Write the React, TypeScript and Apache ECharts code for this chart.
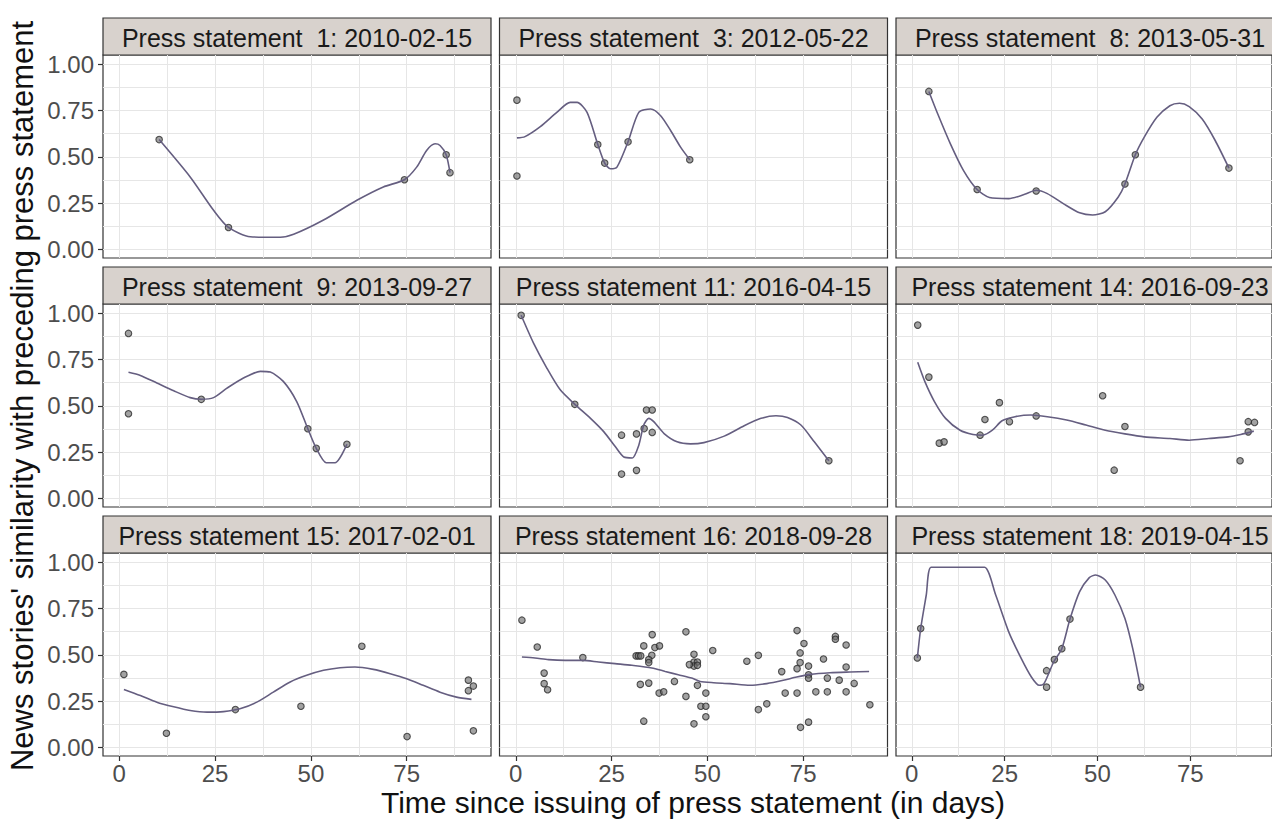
import React, { useEffect, useRef } from "react";
import * as echarts from "echarts";

const FONT = '"Liberation Sans", Arial, Helvetica, sans-serif';

const panelTitles = [
  "Press statement  1: 2010-02-15",
  "Press statement  3: 2012-05-22",
  "Press statement  8: 2013-05-31",
  "Press statement  9: 2013-09-27",
  "Press statement 11: 2016-04-15",
  "Press statement 14: 2016-09-23",
  "Press statement 15: 2017-02-01",
  "Press statement 16: 2018-09-28",
  "Press statement 18: 2019-04-15",
];

const xTickValues = [0, 25, 50, 75];
const xGridValues = [0, 12.5, 25, 37.5, 50, 62.5, 75, 87.5];
const yTickValues = [0, 0.25, 0.5, 0.75, 1];
const yGridValues = [0, 0.125, 0.25, 0.375, 0.5, 0.625, 0.75, 0.875, 1];

const xTitle = "Time since issuing of press statement (in days)";
const yTitle = "News stories' similarity with preceding press statement";

const ps1Points = [[10.4, 0.593], [28.5, 0.118], [74.4, 0.376], [85.3, 0.511], [86.3, 0.414]];
const ps1Smooth = [[10.4, 0.593], [18.5, 0.391], [24.6, 0.211], [28.5, 0.118], [34.2, 0.068], [42, 0.065], [45.5, 0.081], [53.3, 0.158], [62, 0.265], [68.9, 0.337], [74.4, 0.376], [77.6, 0.444], [80.2, 0.534], [82.4, 0.57], [83.7, 0.561], [85.3, 0.511], [86.3, 0.414]];

const ps3Points = [[0.3, 0.806], [0.3, 0.396], [21.4, 0.566], [23.2, 0.466], [29.3, 0.581], [45.4, 0.484]];
const ps3Smooth = [[0.3, 0.602], [2.4, 0.609], [6.4, 0.663], [10.7, 0.74], [14.2, 0.794], [16.0, 0.794], [18.6, 0.74], [21.4, 0.566], [23.2, 0.466], [24.7, 0.435], [26.4, 0.444], [29.3, 0.581], [32.1, 0.74], [35.2, 0.758], [37.8, 0.722], [40.4, 0.642], [43.0, 0.552], [45.4, 0.484]];

const ps8Points = [[4.6, 0.853], [17.6, 0.323], [33.5, 0.315], [57.4, 0.353], [60.2, 0.511], [85.4, 0.439]];
const ps8Smooth = [[4.6, 0.853], [7.0, 0.731], [10.4, 0.57], [13.9, 0.427], [17.6, 0.323], [20.9, 0.28], [26.1, 0.274], [30.4, 0.297], [33.5, 0.319], [36.5, 0.301], [40.8, 0.247], [45.2, 0.197], [48.7, 0.185], [52.1, 0.203], [55.6, 0.283], [57.4, 0.353], [60.2, 0.511], [62.6, 0.606], [66.0, 0.713], [69.5, 0.776], [72.1, 0.789], [74.7, 0.771], [78.2, 0.704], [81.7, 0.588], [85.4, 0.439]];

const ps9Points = [[2.4, 0.891], [2.4, 0.457], [21.4, 0.535], [49.2, 0.376], [51.4, 0.27], [59.4, 0.292]];
const ps9Smooth = [[2.4, 0.681], [5.5, 0.664], [9.8, 0.623], [14.2, 0.581], [18.5, 0.544], [21.4, 0.535], [24.6, 0.544], [28.1, 0.595], [32.4, 0.65], [36.8, 0.686], [39.4, 0.682], [42.8, 0.632], [46.3, 0.523], [49.2, 0.376], [51.4, 0.27], [54.0, 0.192], [56.3, 0.192], [59.4, 0.292]];

const ps11Points = [[1.4, 0.989], [15.4, 0.508], [27.6, 0.341], [27.6, 0.131], [31.5, 0.348], [31.5, 0.151], [33.5, 0.377], [34.1, 0.477], [35.6, 0.477], [35.6, 0.356], [81.7, 0.203]];
const ps11Smooth = [[1.4, 0.989], [4.6, 0.84], [8.1, 0.704], [11.6, 0.586], [15.4, 0.508], [19.5, 0.432], [23.0, 0.359], [26.0, 0.278], [28.2, 0.223], [30.4, 0.218], [32.1, 0.287], [33.4, 0.396], [34.7, 0.432], [36.0, 0.414], [38.7, 0.35], [42.1, 0.305], [45.6, 0.294], [49.1, 0.301], [54.4, 0.336], [59.6, 0.392], [64.0, 0.432], [67.9, 0.446], [70.9, 0.437], [74.4, 0.396], [77.9, 0.305], [81.7, 0.203]];

const ps14Points = [[1.6, 0.936], [4.6, 0.655], [7.4, 0.298], [8.7, 0.305], [18.4, 0.341], [19.7, 0.426], [23.6, 0.517], [26.3, 0.414], [33.5, 0.445], [51.4, 0.554], [54.5, 0.152], [57.4, 0.388], [88.4, 0.203], [90.6, 0.359], [90.6, 0.414], [92.3, 0.41]];
const ps14Smooth = [[1.6, 0.735], [3.5, 0.632], [6.1, 0.523], [9.1, 0.432], [13.0, 0.368], [16.5, 0.345], [19.1, 0.341], [21.7, 0.368], [24.3, 0.419], [27.8, 0.441], [32.1, 0.45], [36.5, 0.441], [41.7, 0.423], [46.9, 0.396], [52.1, 0.368], [57.4, 0.348], [62.6, 0.332], [69.5, 0.323], [74.7, 0.314], [80.0, 0.323], [85.2, 0.332], [88.6, 0.345], [92.1, 0.363]];

const ps15Points = [[1.2, 0.394], [12.3, 0.076], [30.3, 0.204], [47.4, 0.222], [63.3, 0.546], [75.1, 0.058], [91.1, 0.363], [91.1, 0.306], [92.4, 0.331], [92.4, 0.089]];
const ps15Smooth = [[1.2, 0.313], [5.5, 0.28], [9.8, 0.244], [14.2, 0.219], [18.5, 0.199], [22.9, 0.19], [27.2, 0.193], [31.5, 0.208], [35.9, 0.244], [40.2, 0.298], [44.6, 0.353], [48.9, 0.389], [53.3, 0.416], [57.6, 0.43], [61.5, 0.434], [66.3, 0.421], [70.7, 0.398], [75.0, 0.371], [79.3, 0.335], [83.7, 0.298], [88.0, 0.271], [91.9, 0.259]];

const ps16Points = [[1.6, 0.687], [5.6, 0.542], [7.4, 0.401], [7.4, 0.344], [8.3, 0.311], [17.5, 0.485], [31.4, 0.494], [32.0, 0.494], [32.6, 0.494], [33.4, 0.548], [35.6, 0.609], [36.3, 0.539], [37.5, 0.548], [35.5, 0.497], [34.7, 0.474], [34.7, 0.458], [32.5, 0.34], [34.7, 0.347], [37.4, 0.293], [38.6, 0.3], [33.4, 0.141], [41.4, 0.356], [44.4, 0.624], [44.4, 0.275], [46.5, 0.503], [46.5, 0.461], [47.4, 0.461], [46.5, 0.439], [47.4, 0.443], [47.4, 0.335], [49.6, 0.293], [48.3, 0.222], [49.6, 0.222], [49.6, 0.165], [46.5, 0.127], [45.3, 0.447], [51.4, 0.523], [60.3, 0.465], [63.3, 0.497], [63.3, 0.204], [65.5, 0.235], [69.4, 0.409], [70.3, 0.293], [73.4, 0.631], [74.2, 0.51], [75.2, 0.561], [74.2, 0.458], [73.4, 0.425], [73.4, 0.293], [76.4, 0.439], [76.4, 0.392], [76.4, 0.373], [74.3, 0.108], [76.4, 0.136], [78.3, 0.3], [80.3, 0.477], [81.3, 0.374], [81.3, 0.3], [83.4, 0.599], [83.4, 0.584], [84.4, 0.363], [86.2, 0.553], [86.2, 0.434], [86.2, 0.3], [88.3, 0.345], [92.4, 0.23]];
const ps16Smooth = [[1.6, 0.488], [5.0, 0.483], [8.5, 0.474], [12.9, 0.47], [17.5, 0.47], [21.6, 0.461], [25.9, 0.452], [30.3, 0.443], [35.5, 0.429], [39.0, 0.41], [42.4, 0.392], [45.9, 0.374], [48.1, 0.356], [51.6, 0.349], [55.9, 0.344], [61.1, 0.335], [65.5, 0.344], [69.8, 0.362], [73.3, 0.38], [76.8, 0.394], [82.0, 0.403], [87.2, 0.407], [92.2, 0.41]];

const ps18Points = [[1.5, 0.483], [2.4, 0.642], [36.3, 0.414], [36.3, 0.325], [38.4, 0.474], [40.4, 0.533], [42.6, 0.693], [61.6, 0.325]];
const ps18Smooth = [[1.5, 0.483], [2.4, 0.642], [3.9, 0.823], [5.2, 0.973], [10.4, 0.973], [15.6, 0.973], [19.6, 0.973], [22.6, 0.823], [26.1, 0.624], [29.5, 0.479], [32.2, 0.38], [34.3, 0.335], [35.6, 0.344], [38.2, 0.461], [40.4, 0.533], [42.6, 0.693], [45.2, 0.841], [47.8, 0.917], [49.5, 0.931], [52.1, 0.904], [54.7, 0.823], [57.4, 0.696], [59.5, 0.533], [61.6, 0.325]];

const panelPoints = [ps1Points, ps3Points, ps8Points, ps9Points, ps11Points, ps14Points, ps15Points, ps16Points, ps18Points];
const panelSmooth = [ps1Smooth, ps3Smooth, ps8Smooth, ps9Smooth, ps11Smooth, ps14Smooth, ps15Smooth, ps16Smooth, ps18Smooth];

const X_MIN = -4.25;
const X_MAX = 97.0;
const Y_MIN = -0.047;
const Y_MAX = 1.05;

const COL_LEFT = [103, 499.5, 896];
const ROW_TOP = [18, 267, 516];
const PANEL_W = 388;
const STRIP_H = 37;
const PLOT_H = 203;

export default function App() {
  const ref = useRef<HTMLDivElement>(null);
  useEffect(() => {
    if (!ref.current) return;
    const chart = echarts.init(ref.current, undefined, { renderer: "svg" });
    const grids: any[] = [];
    const xAxes: any[] = [];
    const yAxes: any[] = [];
    const series: any[] = [];
    const graphics: any[] = [];

    for (let i = 0; i < 9; i++) {
      const r = Math.floor(i / 3);
      const c = i % 3;
      const left = COL_LEFT[c];
      const top = ROW_TOP[r] + STRIP_H;
      grids.push({
        left, top, width: PANEL_W, height: PLOT_H,
        show: true, borderColor: "#333333", borderWidth: 1.2, backgroundColor: "transparent",
        containLabel: false,
      });
      xAxes.push({
        type: "value", gridIndex: i, min: X_MIN, max: X_MAX, position: "bottom",
        axisLine: { show: false, onZero: false },
        axisTick: { show: false, customValues: xGridValues },
        axisLabel: {
          show: r === 2, customValues: xTickValues, margin: 5,
          color: "#4d4d4d", fontSize: 24, lineHeight: 24, fontFamily: FONT,
          formatter: (v: number) => String(Math.round(v)),
        },
        splitLine: { show: true, lineStyle: { color: "#e6e6e6", width: 1 } },
      });
      yAxes.push({
        type: "value", gridIndex: i, min: Y_MIN, max: Y_MAX, position: "left",
        axisLine: { show: false, onZero: false },
        axisTick: { show: false, customValues: yGridValues },
        axisLabel: {
          show: c === 0, customValues: yTickValues, margin: 9,
          color: "#4d4d4d", fontSize: 24, fontFamily: FONT,
          formatter: (v: number) => v.toFixed(2),
        },
        splitLine: { show: true, lineStyle: { color: "#e6e6e6", width: 1 } },
      });
      series.push({
        type: "scatter", xAxisIndex: i, yAxisIndex: i, data: panelPoints[i],
        symbolSize: 6.5, z: 3,
        itemStyle: { color: "rgba(110,110,110,0.8)", borderColor: "#2a2a2a", borderWidth: 1.1 },
      });
      series.push({
        type: "line", xAxisIndex: i, yAxisIndex: i, data: panelSmooth[i],
        showSymbol: false, smooth: 0.25, z: 4,
        lineStyle: { color: "#655e80", width: 1.6 },
      });
      graphics.push({
        type: "rect",
        shape: { x: left, y: ROW_TOP[r], width: PANEL_W, height: STRIP_H },
        style: { fill: "#d8d2cd", stroke: "#333333", lineWidth: 1.2 },
      });
      graphics.push({
        type: "text",
        x: left + PANEL_W / 2, y: ROW_TOP[r] + STRIP_H / 2 + 1,
        style: {
          text: panelTitles[i], fill: "#1a1a1a", font: `25px ${FONT}`,
          align: "center", verticalAlign: "middle",
        },
      });
    }

    for (let c = 0; c < 3; c++) {
      xAxes.push({
        type: "value", gridIndex: 6 + c, min: X_MIN, max: X_MAX, position: "bottom",
        axisLine: { show: false, onZero: false },
        axisTick: { show: true, customValues: xTickValues, length: 5, lineStyle: { color: "#333333", width: 1.2 } },
        axisLabel: { show: false },
        splitLine: { show: false },
      });
    }
    for (let r = 0; r < 3; r++) {
      yAxes.push({
        type: "value", gridIndex: r * 3, min: Y_MIN, max: Y_MAX, position: "left",
        axisLine: { show: false, onZero: false },
        axisTick: { show: true, customValues: yTickValues, length: 5, lineStyle: { color: "#333333", width: 1.2 } },
        axisLabel: { show: false },
        splitLine: { show: false },
      });
    }

    graphics.push({
      type: "text", x: 693, y: 802,
      style: { text: xTitle, fill: "#111111", font: `30px ${FONT}`, lineHeight: 30, align: "center", verticalAlign: "middle" },
    });
    graphics.push({
      type: "text", x: 22, y: 396, rotation: Math.PI / 2,
      style: { text: yTitle, fill: "#111111", font: `31px ${FONT}`, align: "center", verticalAlign: "middle" },
    });

    chart.setOption({
      animation: false,
      backgroundColor: "#ffffff",
      grid: grids,
      xAxis: xAxes,
      yAxis: yAxes,
      series,
      graphic: graphics,
    });
    return () => chart.dispose();
  }, []);
  return (
    <div
      ref={ref}
      style={{ position: "fixed", left: 0, top: 0, width: 1272, height: 821, background: "#fff" }}
    />
  );
}
